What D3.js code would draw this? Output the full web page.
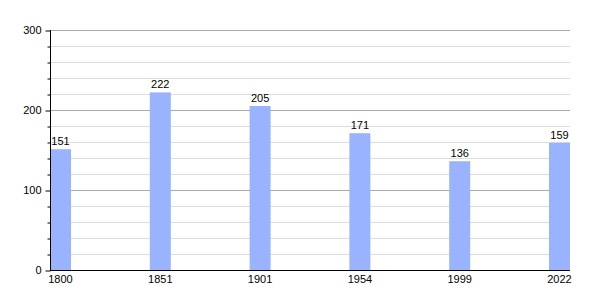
<!DOCTYPE html>
<html>
<head>
<meta charset="utf-8">
<script src="https://cdn.jsdelivr.net/npm/d3@7"></script>
<style>
  body { margin: 0; background: #fff; }
  svg { font-family: "Liberation Sans", Arial, sans-serif; }
</style>
</head>
<body>
<div id="chart"></div>
<script>
// Population by census year
const years = ['1800', '1851', '1901', '1954', '1999', '2022'];
const population = [151, 222, 205, 171, 136, 159];
const majorTicks = [0, 100, 200, 300];
const minorTicks = [20, 40, 60, 80, 120, 140, 160, 180, 220, 240, 260, 280];

const width = 600, height = 300;
const plotLeft = 50, plotRight = 570, plotTop = 30, plotBottom = 270;
const barWidth = 21;

const svg = d3.select('#chart')
    .append('svg')
    .attr('width', width)
    .attr('height', height);

const x = d3.scalePoint()
    .domain(years)
    .range([plotLeft, plotRight - barWidth]);

const y = d3.scaleLinear()
    .domain([0, 300])
    .range([plotBottom, plotTop]);

// Minor grid lines
svg.append('g')
    .selectAll('line')
    .data(minorTicks)
    .enter()
    .append('line')
    .attr('x1', plotLeft)
    .attr('x2', plotRight)
    .attr('y1', d => y(d) + 0.5)
    .attr('y2', d => y(d) + 0.5)
    .attr('stroke', '#dddddd');

// Major grid lines
svg.append('g')
    .selectAll('line')
    .data(majorTicks.filter(d => d > 0))
    .enter()
    .append('line')
    .attr('x1', plotLeft)
    .attr('x2', plotRight)
    .attr('y1', d => y(d) + 0.5)
    .attr('y2', d => y(d) + 0.5)
    .attr('stroke', '#aaaaaa');

// Bars
svg.append('g')
    .selectAll('rect')
    .data(population)
    .enter()
    .append('rect')
    .attr('x', (d, i) => x(years[i]))
    .attr('y', d => y(d))
    .attr('width', barWidth)
    .attr('height', d => plotBottom - y(d))
    .attr('fill', '#99b3ff');

// Value labels
svg.append('g')
    .selectAll('text')
    .data(population)
    .enter()
    .append('text')
    .attr('x', (d, i) => x(years[i]) + barWidth / 2)
    .attr('y', d => y(d) - 4)
    .attr('text-anchor', 'middle')
    .style('font-size', '11px')
    .style('fill', '#000')
    .text(d => d);

// Y axis with minor ticks
const yAxis = d3.axisLeft(y)
    .tickValues(majorTicks)
    .tickSize(5)
    .tickPadding(4);

const gy = svg.append('g')
    .attr('transform', `translate(${plotLeft + 0.5},0)`)
    .call(yAxis);
gy.select('.domain').attr('d', `M0,${plotTop}V${plotBottom}`);
gy.selectAll('.tick line').attr('transform', 'translate(0,0.5)');
gy.selectAll('text').style('font-size', '11px').style('font-family', '"Liberation Sans", Arial, sans-serif');

svg.append('g')
    .attr('transform', `translate(${plotLeft + 0.5},0)`)
    .call(d3.axisLeft(y).tickValues(minorTicks).tickSize(3).tickFormat(''))
    .call(g => g.select('.domain').remove())
    .selectAll('.tick line').attr('transform', 'translate(0,0.5)');

// X axis line and year labels
svg.append('line')
    .attr('x1', plotLeft)
    .attr('x2', plotRight)
    .attr('y1', plotBottom + 0.5)
    .attr('y2', plotBottom + 0.5)
    .attr('stroke', '#000');

svg.append('g')
    .selectAll('text')
    .data(years)
    .enter()
    .append('text')
    .attr('x', d => x(d) + barWidth / 2)
    .attr('y', plotBottom + 13)
    .attr('text-anchor', 'middle')
    .style('font-size', '11px')
    .style('fill', '#000')
    .text(d => d);
</script>
</body>
</html>
